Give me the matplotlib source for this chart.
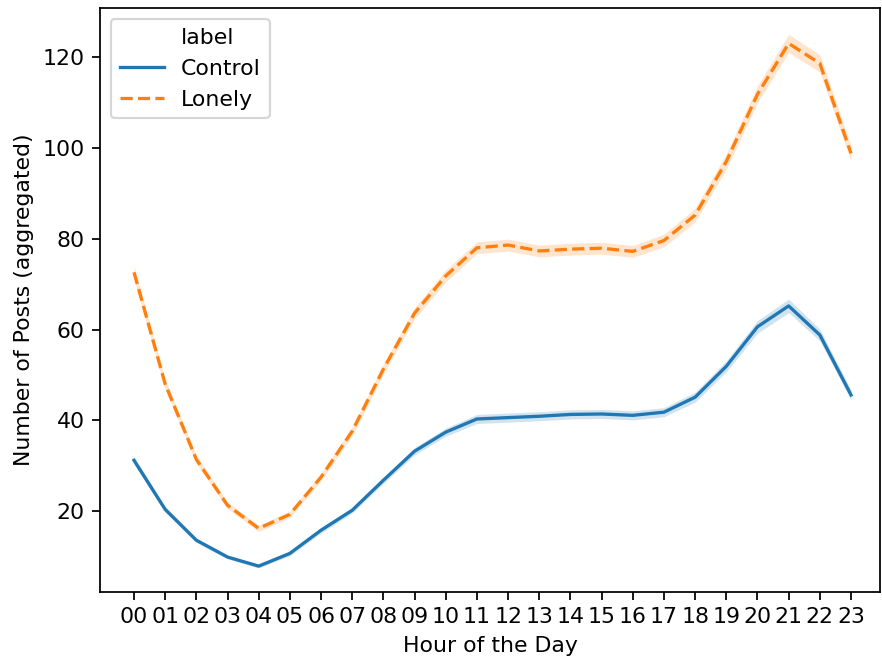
import numpy as np
import matplotlib
matplotlib.use('Agg')
import matplotlib.pyplot as plt
from matplotlib.lines import Line2D

# hourly aggregated post counts
hours = ['00', '01', '02', '03', '04', '05', '06', '07', '08', '09', '10', '11',
         '12', '13', '14', '15', '16', '17', '18', '19', '20', '21', '22', '23']
control = [31.2, 20.4, 13.6, 9.9, 7.9, 10.7, 15.8, 20.2, 26.8, 33.2, 37.4, 40.3,
           40.6, 40.9, 41.3, 41.4, 41.1, 41.8, 45.1, 51.9, 60.6, 65.2, 58.8, 45.6]
lonely = [72.6, 48.0, 31.4, 21.3, 16.2, 19.3, 27.5, 37.6, 51.3, 63.6, 71.8, 78.0,
          78.6, 77.3, 77.7, 77.9, 77.2, 79.6, 85.2, 97.0, 111.8, 123.0, 118.6, 98.8]
# half-width of the confidence band
control_ci = [0.8, 0.6, 0.5, 0.4, 0.4, 0.5, 0.6, 0.6, 0.7, 0.8, 0.9, 1.0,
              1.0, 1.0, 1.0, 1.0, 1.0, 1.0, 1.1, 1.2, 1.4, 1.5, 1.3, 1.1]
lonely_ci = [1.5, 1.1, 0.9, 0.7, 0.7, 0.7, 0.8, 1.0, 1.1, 1.2, 1.3, 1.3,
             1.3, 1.3, 1.3, 1.3, 1.3, 1.4, 1.5, 1.7, 1.9, 2.0, 1.9, 1.7]

DPI = 158
fig = plt.figure(figsize=(882 / DPI, 656 / DPI), dpi=DPI)
ax = fig.add_axes([100 / 882, 64 / 656, 780 / 882, 584 / 656])

x = np.arange(len(hours))
c_blue = '#1f77b4'
c_orange = '#ff7f0e'

c = np.array(control)
l = np.array(lonely)
ax.fill_between(x, c - np.array(control_ci), c + np.array(control_ci), color=c_blue, alpha=0.2, lw=0)
ax.fill_between(x, l - np.array(lonely_ci), l + np.array(lonely_ci), color=c_orange, alpha=0.2, lw=0)
ax.plot(x, c, color=c_blue, lw=1.5)
ax.plot(x, l, color=c_orange, lw=1.5, ls=(0, (3.7, 1.6)))

ax.set_xticks(x)
ax.set_xticklabels(hours)
ax.set_xlim(-1.09, 23.93)
ax.set_ylim(2.2, 130.8)
ax.set_xlabel('Hour of the Day')
ax.set_ylabel('Number of Posts (aggregated)')

handles = [Line2D([], [], color='none'),
           Line2D([], [], color=c_blue, lw=1.5),
           Line2D([], [], color=c_orange, lw=1.5, ls=(0, (3.7, 1.6)))]
ax.legend(handles, ['label', 'Control', 'Lonely'], loc='upper left')

fig.savefig('out.png', dpi=DPI)
